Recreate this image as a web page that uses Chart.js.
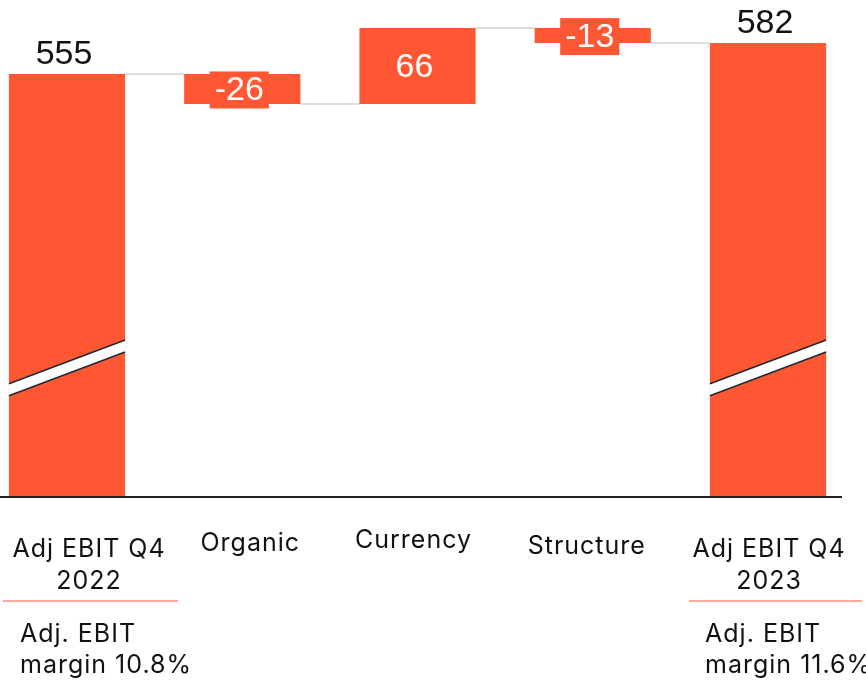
<!DOCTYPE html>
<html>
<head>
<meta charset="utf-8">
<script src="https://cdn.jsdelivr.net/npm/chart.js@4.4.1/dist/chart.umd.min.js"></script>
<style>
  html, body { margin: 0; padding: 0; background: #fff; }
  #wrap { width: 866px; height: 685px; position: relative; }
</style>
</head>
<body>
<div id="wrap"><canvas id="bridge"></canvas></div>
<script>
// Bridge data: Adj EBIT Q4 2022 -> Q4 2023
const categories = ['Adj EBIT Q4\n2022', 'Organic', 'Currency', 'Structure', 'Adj EBIT Q4\n2023'];
const changes = [555, -26, 66, -13, 582];
const isTotal = [true, false, false, false, true];
const marginNotes = ['Adj. EBIT\nmargin 10.8%', '', '', '', 'Adj. EBIT\nmargin 11.6%'];

const ORANGE = '#ff5733';

// running totals -> floating bars
const ranges = [];
let running = 0;
changes.forEach((v, i) => {
  if (isTotal[i]) {
    ranges.push([0, v]);
    running = v;
  } else {
    ranges.push([running, running + v]);
    running += v;
  }
});
const points = ranges.map((r, i) => ({ x: i, y: r }));

// label tweaks (pixel nudges to match the slide layout)
const labelDx = [22, 8, -4, -6, 1];
const labelDy = [52, 46, 43, 49, 52];
const noteDx = [-69, 0, 0, 0, -64];
const ruleSpan = [[-86, 89], null, null, null, [-80, 93]];

const bridgePlugin = {
  id: 'bridge',
  beforeDatasetsDraw(chart) {
    const { ctx, scales: { y } } = chart;
    const bars = chart.getDatasetMeta(0).data;
    // connectors at the running total after each step
    ctx.save();
    ctx.strokeStyle = '#dddddd';
    ctx.lineWidth = 2;
    for (let i = 0; i < bars.length - 1; i++) {
      const level = y.getPixelForValue(ranges[i][1]);
      const a = bars[i], b = bars[i + 1];
      ctx.beginPath();
      ctx.moveTo(a.x + a.width / 2, level);
      ctx.lineTo(b.x - b.width / 2, level);
      ctx.stroke();
    }
    ctx.restore();
  },
  afterDatasetsDraw(chart) {
    const { ctx, scales: { x, y }, chartArea } = chart;
    const bars = chart.getDatasetMeta(0).data;
    ctx.save();

    // break marks on the total bars
    bars.forEach((bar, i) => {
      if (!isTotal[i]) return;
      const l = bar.x - bar.width / 2, r = bar.x + bar.width / 2;
      const yl = y.getPixelForValue(280), yr = y.getPixelForValue(318);
      const h = 6;
      ctx.fillStyle = '#fff';
      ctx.beginPath();
      ctx.moveTo(l, yl - h); ctx.lineTo(r, yr - h);
      ctx.lineTo(r, yr + h); ctx.lineTo(l, yl + h);
      ctx.closePath();
      ctx.fill();
      ctx.strokeStyle = '#1e2a30';
      ctx.lineWidth = 1.6;
      ctx.beginPath();
      ctx.moveTo(l, yl - h); ctx.lineTo(r, yr - h);
      ctx.moveTo(l, yl + h); ctx.lineTo(r, yr + h);
      ctx.stroke();
    });

    // baseline
    ctx.strokeStyle = '#222';
    ctx.lineWidth = 2;
    ctx.beginPath();
    ctx.moveTo(chartArea.left, chartArea.bottom);
    ctx.lineTo(842, chartArea.bottom);
    ctx.stroke();

    // value labels
    ctx.font = '34px "Liberation Sans", Arial, sans-serif';
    ctx.textAlign = 'center';
    ctx.textBaseline = 'middle';
    bars.forEach((bar, i) => {
      const txt = String(changes[i]);
      if (isTotal[i]) {
        ctx.fillStyle = '#111';
        ctx.fillText(txt, bar.x - 3, y.getPixelForValue(ranges[i][1]) - 19);
      } else {
        const top = y.getPixelForValue(Math.max(...ranges[i]));
        const bot = y.getPixelForValue(Math.min(...ranges[i]));
        const cy = (top + bot) / 2 + 1;
        const w = ctx.measureText(txt).width + 10;
        ctx.fillStyle = ORANGE;
        ctx.fillRect(bar.x - w / 2 - 3, cy - 18.5, w, 37);
        ctx.fillStyle = '#fff';
        ctx.fillText(txt, bar.x - 3, cy + 1);
      }
    });

    // category labels
    ctx.font = '25px Inter, "Liberation Sans", sans-serif';
    ctx.letterSpacing = '1px';
    ctx.fillStyle = '#111';
    categories.forEach((c, i) => {
      const cx = x.getPixelForValue(i) + labelDx[i];
      c.split('\n').forEach((line, k) => {
        ctx.fillText(line, cx, chartArea.bottom + labelDy[i] + k * 32);
      });
    });

    // margin notes with orange rule
    ctx.textAlign = 'left';
    marginNotes.forEach((n, i) => {
      if (!n) return;
      const cx = x.getPixelForValue(i) + labelDx[i];
      ctx.strokeStyle = ORANGE;
      ctx.lineWidth = 1.2;
      ctx.beginPath();
      ctx.moveTo(cx + ruleSpan[i][0], chartArea.bottom + 104);
      ctx.lineTo(cx + ruleSpan[i][1], chartArea.bottom + 104);
      ctx.stroke();
      n.split('\n').forEach((line, k) => {
        ctx.fillText(line, cx + noteDx[i], chartArea.bottom + 137 + k * 31);
      });
    });
    ctx.restore();
  }
};

new Chart(document.getElementById('bridge'), {
  type: 'bar',
  data: {
    datasets: [{
      data: points,
      backgroundColor: ORANGE,
      borderWidth: 0,
      barPercentage: 1,
      categoryPercentage: 0.663
    }]
  },
  options: {
    responsive: true,
    maintainAspectRatio: false,
    animation: false,
    layout: { padding: { left: 0, right: 0, top: 0, bottom: 188 } },
    plugins: { legend: { display: false }, tooltip: { enabled: false } },
    scales: {
      x: {
        type: 'linear', min: -0.3823, max: 4.559, offset: false, display: false,
        grid: { offset: false },
        ticks: { stepSize: 1, includeBounds: false }
      },
      y: { min: 186.5, max: 619.5, display: false }
    }
  },
  plugins: [bridgePlugin]
});
</script>
</body>
</html>
